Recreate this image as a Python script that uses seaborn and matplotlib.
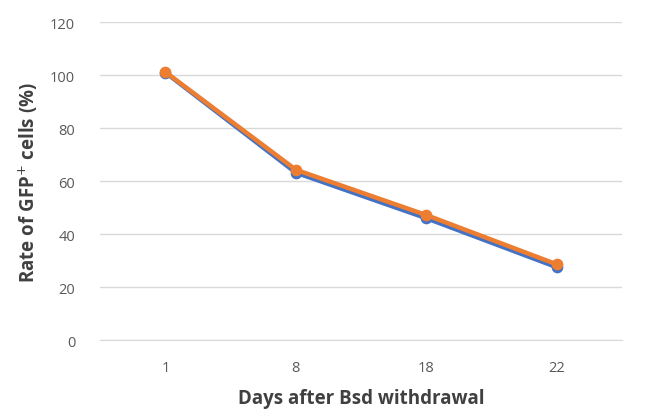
import pandas as pd
import seaborn as sns
import matplotlib.pyplot as plt

days = ["1", "8", "18", "22"]
series_a = [101.0, 63.2, 46.0, 27.5]
series_b = [101.2, 64.3, 47.2, 28.6]
series_names = ["A", "B"]

df = pd.DataFrame({
    "day": days * 2,
    "rate": series_a + series_b,
    "series": [series_names[0]] * len(days) + [series_names[1]] * len(days),
})

sns.set_style("white")
plt.rcParams['font.family'] = ['Open Sans', 'DejaVu Sans']

fig = plt.figure(figsize=(6.59, 4.14), dpi=100)
ax = fig.add_axes([0.152, 0.176, 0.792, 0.768])

sns.pointplot(data=df, x="day", y="rate", hue="series", order=days,
              palette=["#4472C4", "#ED7D31"], markers="o", linestyles="-",
              markersize=6, linewidth=3.2, legend=False, ax=ax)

ax.set_ylim(0, 120)
ax.set_yticks(range(0, 121, 20))
ax.set_xlim(-0.5, len(days) - 0.5)
ax.yaxis.grid(True, color="#d9d9d9", linewidth=1)
ax.set_axisbelow(True)
for s in ["top", "right", "left"]:
    ax.spines[s].set_visible(False)
ax.spines["bottom"].set_color("#d9d9d9")
ax.tick_params(axis="both", length=0, labelsize=10.5, labelcolor="#595959", pad=14)
ax.tick_params(axis="y", pad=18)

ax.set_xlabel("Days after Bsd withdrawal", fontsize=13.5, fontweight="bold",
              color="#404040", labelpad=10)
ax.set_ylabel("Rate of GFP$^{+}$ cells (%)", fontsize=13.5, fontweight="bold",
              color="#404040", labelpad=7)

fig.savefig("out.png", dpi=100)
